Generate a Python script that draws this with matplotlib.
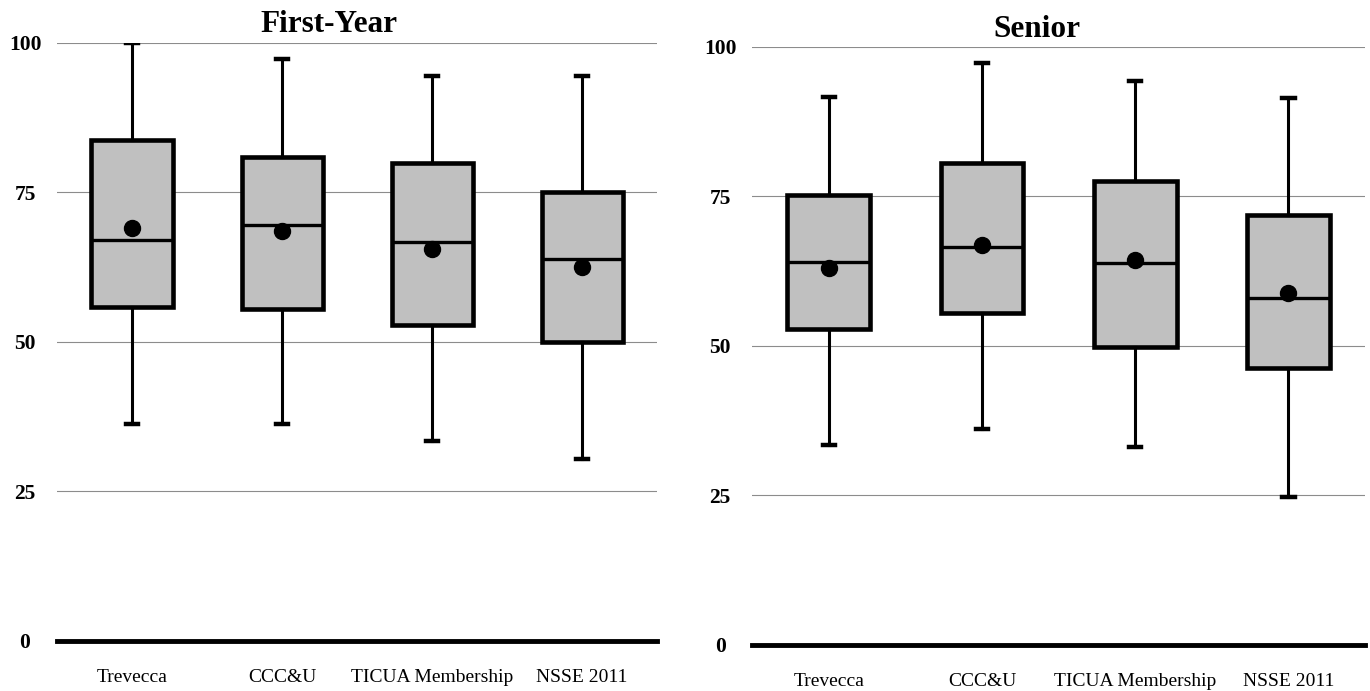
import matplotlib
matplotlib.use("Agg")
import matplotlib.pyplot as plt

categories = ["Trevecca", "CCC&U", "TICUA Membership", "NSSE 2011"]

# First-Year
fy_whislo = [36.2, 36.2, 33.4, 30.4]
fy_q1     = [55.9, 55.5, 52.9, 50.0]
fy_med    = [67.1, 69.6, 66.8, 63.8]
fy_q3     = [83.7, 80.9, 80.0, 75.0]
fy_whishi = [100.0, 97.4, 94.5, 94.5]
fy_mean   = [69.1, 68.5, 65.6, 62.6]

# Senior
sr_whislo = [33.4, 36.1, 33.1, 24.7]
sr_q1     = [52.8, 55.5, 49.8, 46.3]
sr_med    = [64.0, 66.6, 63.9, 58.0]
sr_q3     = [75.2, 80.6, 77.6, 71.9]
sr_whishi = [91.6, 97.3, 94.3, 91.5]
sr_mean   = [63.0, 66.9, 64.4, 58.8]

titles = ["First-Year", "Senior"]
yticks = [0, 25, 50, 75, 100]

serif = ["Liberation Serif", "DejaVu Serif"]
plt.rcParams["font.family"] = serif

fig = plt.figure(figsize=(13.7, 6.91), dpi=100)
axes_rects = [
    [0.0416, 0.0724, 0.4380, 0.8654],
    [0.5490, 0.0666, 0.4474, 0.8654],
]
title_pos = [(0.4525, 1.018), (0.464, 1.0167)]

panels = [
    (fy_whislo, fy_q1, fy_med, fy_q3, fy_whishi, fy_mean),
    (sr_whislo, sr_q1, sr_med, sr_q3, sr_whishi, sr_mean),
]

for rect, title, tp, data in zip(axes_rects, titles, title_pos, panels):
    ax = fig.add_axes(rect)
    lo, q1, med, q3, hi, mn = data
    stats = []
    for i, lab in enumerate(categories):
        stats.append(dict(label=lab, whislo=lo[i], q1=q1[i], med=med[i],
                          q3=q3[i], whishi=hi[i], mean=mn[i], fliers=[]))
    ax.bxp(stats, positions=range(1, 5), widths=0.54, patch_artist=True,
           showmeans=True, showfliers=False,
           boxprops=dict(facecolor="#c0c0c0", edgecolor="black", linewidth=3.3),
           medianprops=dict(color="black", linewidth=2.4),
           whiskerprops=dict(color="black", linewidth=2.2),
           capprops=dict(color="black", linewidth=3.2),
           capwidths=0.08,
           meanprops=dict(marker="o", markerfacecolor="black",
                          markeredgecolor="black", markersize=11.5))
    ax.set_xlim(0.5, 4.5)
    ax.set_ylim(0, 100)
    for y in [25, 50, 75, 100]:
        ax.axhline(y, color="#8c8c8c", linewidth=0.8, zorder=0)
    ax.axhline(0, color="black", linewidth=3.5, clip_on=False, zorder=3)
    for s in ax.spines.values():
        s.set_visible(False)
    ax.set_yticks(yticks)
    ax.set_yticklabels([str(t) for t in yticks], fontsize=15.5, fontweight="bold",
                       ha="center")
    ax.tick_params(axis="y", length=0, pad=23)
    ax.tick_params(axis="x", length=0, pad=20, labelsize=14)
    ax.text(tp[0], tp[1], title, transform=ax.transAxes, ha="center",
            va="baseline", fontsize=22.5, fontweight="bold")

fig.savefig("out.png", dpi=100)
